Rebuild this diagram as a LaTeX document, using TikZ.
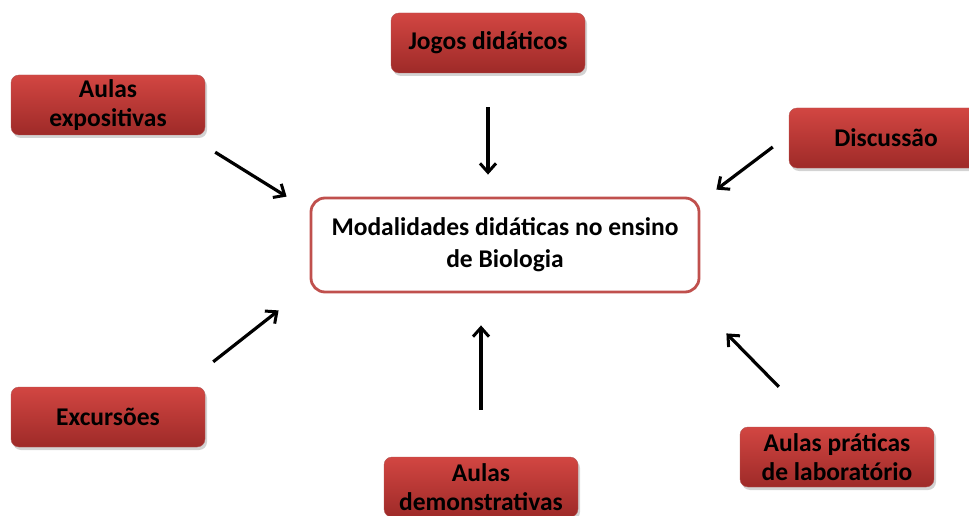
\documentclass[tikz,border=0pt]{standalone}
\usepackage{fontspec}
\setmainfont{Carlito}
\usetikzlibrary{arrows.meta,shadows}
\definecolor{vermelho}{RGB}{192,80,77}
\definecolor{vermclaro}{RGB}{210,70,66}
\definecolor{vermescuro}{RGB}{158,42,40}
\begin{document}
\begin{tikzpicture}[x=1pt,y=1pt,
  caixa/.style={rounded corners=8pt, minimum width=194pt, minimum height=60pt,
    top color=vermclaro, bottom color=vermescuro, draw=vermescuro!80,
    drop shadow={opacity=0.35, shadow xshift=2pt, shadow yshift=-3pt},
    align=center, font=\bfseries\fontsize{25.5}{29}\selectfont, text=black},
  central/.style={rounded corners=14pt, minimum width=388pt, minimum height=94pt,
    fill=white, draw=vermelho, line width=2.8pt,
    align=center, font=\bfseries\fontsize{25.5}{32}\selectfont},
  seta/.style={-{Straight Barb[length=9pt,width=16pt,line width=3pt]}, line width=3.2pt}]
\useasboundingbox (0,0) rectangle (969,-516);
\clip (0,0) rectangle (969,-516);
\def\cx#1#2#3#4{
\node [caixa] (#1) at (#2,-#3) {#4};
}
\node [central] (centro) at (505,-245) {Modalidades did\'aticas no ensino\\de Biologia};
\cx{jogos}{488}{43}{Jogos did\'aticos}
\cx{expo}{108}{105}{Aulas\\expositivas}
\cx{disc}{886}{138}{Discuss\~ao}
\cx{exc}{108}{417}{Excurs\~oes}
\cx{demo}{481}{487}{Aulas\\demonstrativas}
\cx{prat}{837}{457}{Aulas pr\'aticas\\de laborat\'orio}
% setas para o centro
\draw [seta] ([yshift=-34pt]jogos.south) -- ([yshift=22pt]jogos.south |- centro.north);
\draw [seta] ([shift={(10,-17)}]expo.south east) -- ([shift={(-23,0)}]centro.north west);
\draw [seta] ([shift={(-16,-9)}]disc.west) -- ([shift={(16,7)}]centro.north east);
\draw [seta] ([shift={(8,25)}]exc.north east) -- ([shift={(-31,-17)}]centro.south west);
\draw [seta] ([yshift=47pt]demo.north) -- ([yshift=-32pt]demo.north |- centro.south);
\draw [seta] ([shift={(39,40)}]prat.north west) -- ([shift={(26,-40)}]centro.south east);
\end{tikzpicture}
\end{document}
